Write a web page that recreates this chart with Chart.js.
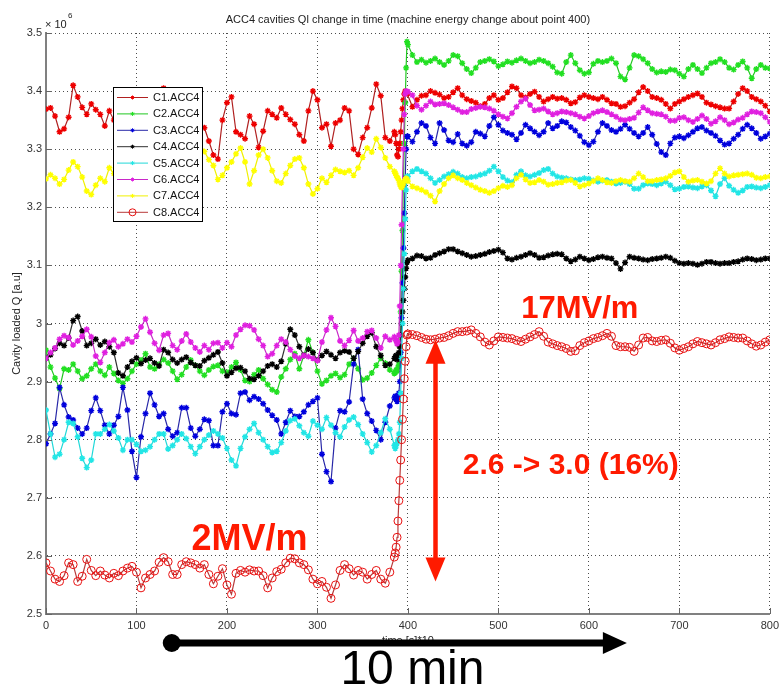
<!DOCTYPE html>
<html><head><meta charset="utf-8">
<script src="https://cdn.jsdelivr.net/npm/chart.js@4/dist/chart.umd.min.js"></script>
<style>html,body{margin:0;padding:0;background:#fff;}#wrap{width:784px;height:687px;}</style>
</head><body><div id="wrap"><canvas id="c" width="784" height="687"></canvas></div>
<script>
// ---- x positions (time samples) ----
const preTimes = []; for (let t = 0; t <= 385; t += 5) preTimes.push(t);
const rampTimes = [386,387,388,389,390,391,392,393,394,395,396,397,398,399];
const postTimes = []; for (let t = 400; t <= 800; t += 5) postTimes.push(t);
const times = [...preTimes, ...rampTimes, ...postTimes];

const seriesLabels = ['C1.ACC4','C2.ACC4','C3.ACC4','C4.ACC4','C5.ACC4','C6.ACC4','C7.ACC4','C8.ACC4'];
const xTickValues = [0,100,200,300,400,500,600,700,800];

// ---- series values (x 10^6) ----
const C1 = [
3.369,3.371,3.357,3.33,3.335,3.355,3.41,3.39,3.372,3.36,
3.378,3.368,3.36,3.34,3.366,3.35,3.362,3.345,3.37,3.357,
3.364,3.348,3.372,3.36,3.385,3.392,3.405,3.396,3.372,3.356,
3.366,3.349,3.36,3.35,3.343,3.337,3.314,3.29,3.283,3.35,
3.38,3.39,3.33,3.325,3.318,3.357,3.343,3.303,3.331,3.366,
3.36,3.354,3.371,3.36,3.351,3.343,3.325,3.314,3.366,3.4,
3.385,3.337,3.343,3.305,3.345,3.35,3.371,3.366,3.3,3.291,
3.32,3.337,3.371,3.412,3.392,3.32,3.314,3.33,
3.325,3.31,3.29,3.287,3.3,3.31,3.33,3.35,3.37,3.385,3.395,3.4,3.398,3.396,
3.396,3.373,3.385,3.392,3.393,3.4,3.397,3.394,3.388,3.39,
3.398,3.405,3.393,3.386,3.383,3.38,3.374,3.378,3.388,3.393,
3.385,3.388,3.398,3.408,3.405,3.393,3.389,3.395,3.399,3.39,
3.382,3.386,3.39,3.387,3.388,3.385,3.379,3.381,3.389,3.393,
3.39,3.388,3.386,3.39,3.385,3.379,3.378,3.373,3.374,3.38,
3.386,3.398,3.407,3.4,3.39,3.388,3.385,3.378,3.37,3.378,
3.382,3.386,3.39,3.393,3.396,3.39,3.38,3.377,3.374,3.372,
3.37,3.37,3.382,3.395,3.405,3.4,3.39,3.386,3.382,3.375,
3.365];
const C2 = [
2.954,2.925,2.906,2.888,2.922,2.92,2.93,2.918,2.905,2.91,
2.922,2.93,2.918,2.911,2.925,2.914,2.902,2.897,2.905,2.918,
2.93,2.937,2.948,2.925,2.922,2.93,2.938,2.932,2.918,2.904,
2.912,2.925,2.937,2.928,2.918,2.911,2.92,2.926,2.928,2.918,
2.916,2.925,2.933,2.92,2.902,2.9,2.912,2.92,2.905,2.895,
2.886,2.882,2.908,2.922,2.938,2.948,2.922,2.945,2.972,2.95,
2.918,2.896,2.902,2.91,2.914,2.907,2.912,2.93,2.94,2.922,
2.903,2.906,2.915,2.928,2.94,2.932,2.92,2.914,
2.916,2.92,2.918,2.925,2.93,2.96,3.02,3.09,3.16,3.24,3.31,3.38,3.44,3.485,
3.48,3.462,3.45,3.454,3.449,3.452,3.456,3.45,3.445,3.452,
3.462,3.46,3.448,3.438,3.431,3.44,3.45,3.452,3.455,3.451,
3.443,3.446,3.451,3.449,3.453,3.456,3.452,3.448,3.45,3.454,
3.452,3.448,3.442,3.432,3.43,3.45,3.462,3.448,3.436,3.43,
3.432,3.447,3.452,3.45,3.452,3.456,3.448,3.425,3.42,3.44,
3.462,3.46,3.455,3.448,3.438,3.432,3.434,3.433,3.437,3.436,
3.43,3.425,3.438,3.445,3.438,3.431,3.44,3.448,3.45,3.455,
3.45,3.44,3.437,3.445,3.451,3.44,3.422,3.438,3.445,3.44,
3.439];
const C3 = [
2.793,2.81,2.828,2.89,2.86,2.839,2.834,2.82,2.81,2.82,
2.85,2.872,2.85,2.825,2.81,2.825,2.84,2.89,2.851,2.78,
2.735,2.805,2.845,2.88,2.86,2.84,2.845,2.818,2.806,2.812,
2.855,2.855,2.82,2.806,2.818,2.835,2.833,2.79,2.79,2.848,
2.862,2.845,2.843,2.88,2.882,2.868,2.874,2.87,2.862,2.851,
2.842,2.834,2.81,2.83,2.85,2.84,2.84,2.848,2.86,2.866,
2.872,2.775,2.745,2.728,2.82,2.85,2.848,2.865,2.93,2.955,
2.87,2.845,2.832,2.816,2.8,2.83,2.858,2.872,
2.875,2.87,2.866,2.872,2.88,2.9,2.95,3.01,3.07,3.13,3.19,3.25,3.3,3.322,
3.322,3.313,3.33,3.345,3.34,3.32,3.31,3.345,3.333,3.315,
3.312,3.326,3.31,3.306,3.312,3.33,3.327,3.322,3.34,3.355,
3.342,3.332,3.328,3.325,3.317,3.328,3.342,3.336,3.33,3.324,
3.33,3.345,3.336,3.34,3.348,3.346,3.338,3.332,3.323,3.312,
3.307,3.313,3.33,3.345,3.34,3.333,3.33,3.335,3.342,3.335,
3.328,3.322,3.328,3.338,3.325,3.309,3.295,3.29,3.31,3.32,
3.322,3.319,3.324,3.33,3.336,3.338,3.332,3.328,3.323,3.315,
3.308,3.31,3.318,3.325,3.335,3.342,3.336,3.328,3.318,3.322,
3.327];
const C4 = [
2.94,2.946,2.957,2.966,2.962,2.975,3.005,3.012,2.987,2.962,
2.966,2.973,2.963,2.969,2.96,2.95,2.915,2.91,2.925,2.935,
2.941,2.931,2.937,2.94,2.932,2.927,2.955,2.95,2.938,2.932,
2.938,2.942,2.933,2.928,2.927,2.936,2.941,2.946,2.951,2.932,
2.91,2.916,2.923,2.924,2.918,2.905,2.904,2.91,2.918,2.927,
2.93,2.925,2.935,2.965,2.99,2.98,2.96,2.945,2.956,2.95,
2.937,2.945,2.952,2.946,2.94,2.95,2.953,2.951,2.94,2.952,
2.966,2.978,2.984,2.96,2.945,2.928,2.93,2.94,
2.943,2.945,2.938,2.94,2.95,2.96,2.98,3.0,3.02,3.04,3.06,3.08,3.095,3.105,
3.109,3.112,3.117,3.116,3.112,3.113,3.118,3.121,3.124,3.128,
3.128,3.124,3.121,3.118,3.115,3.116,3.118,3.12,3.123,3.125,
3.127,3.122,3.112,3.11,3.113,3.115,3.118,3.121,3.118,3.113,
3.114,3.117,3.119,3.12,3.119,3.112,3.107,3.11,3.115,3.112,
3.109,3.111,3.114,3.115,3.113,3.112,3.104,3.094,3.105,3.115,
3.113,3.112,3.11,3.109,3.111,3.112,3.113,3.115,3.113,3.108,
3.104,3.103,3.104,3.103,3.101,3.103,3.106,3.106,3.104,3.103,
3.104,3.104,3.106,3.107,3.11,3.112,3.111,3.109,3.11,3.112,
3.112];
const C5 = [
2.851,2.81,2.77,2.775,2.8,2.83,2.828,2.805,2.768,2.752,
2.765,2.81,2.81,2.818,2.826,2.815,2.803,2.782,2.8,2.8,
2.792,2.78,2.782,2.788,2.8,2.81,2.81,2.784,2.79,2.8,
2.81,2.802,2.788,2.776,2.788,2.8,2.808,2.815,2.81,2.803,
2.785,2.765,2.755,2.785,2.805,2.818,2.828,2.812,2.8,2.788,
2.778,2.78,2.795,2.815,2.833,2.836,2.824,2.812,2.806,2.832,
2.825,2.818,2.838,2.825,2.812,2.805,2.822,2.834,2.839,2.826,
2.81,2.795,2.779,2.79,2.812,2.836,2.818,2.79,
2.785,2.79,2.795,2.8,2.81,2.83,2.88,2.94,3.0,3.06,3.12,3.18,3.23,3.253,
3.253,3.262,3.266,3.262,3.258,3.25,3.242,3.247,3.253,3.257,
3.261,3.258,3.252,3.25,3.252,3.253,3.256,3.258,3.263,3.27,
3.262,3.252,3.246,3.243,3.256,3.262,3.255,3.253,3.256,3.259,
3.264,3.266,3.258,3.253,3.251,3.25,3.248,3.247,3.248,3.25,
3.249,3.246,3.244,3.246,3.247,3.244,3.241,3.242,3.244,3.24,
3.232,3.232,3.238,3.241,3.24,3.238,3.241,3.244,3.238,3.231,
3.232,3.235,3.236,3.234,3.233,3.236,3.238,3.229,3.219,3.24,
3.25,3.237,3.23,3.225,3.229,3.235,3.236,3.234,3.233,3.235,
3.238];
const C6 = [
2.94,2.95,2.958,2.973,2.979,2.976,2.963,2.97,2.978,2.99,
2.977,2.944,2.933,2.95,2.967,2.972,2.96,2.965,2.973,2.968,
2.978,2.994,3.008,2.985,2.966,2.954,2.98,2.983,2.962,2.955,
2.97,2.982,2.968,2.958,2.951,2.962,2.955,2.966,2.967,2.958,
2.967,2.96,2.98,2.99,2.997,2.996,2.989,2.973,2.962,2.943,
2.948,2.962,2.973,2.968,2.955,2.944,2.94,2.945,2.943,2.94,
2.936,2.968,2.989,3.01,2.995,2.97,2.962,2.971,2.988,2.97,
2.975,2.986,2.988,2.975,2.958,2.978,2.972,2.977,
2.974,2.97,2.965,2.968,2.98,3.03,3.1,3.17,3.24,3.3,3.36,3.395,3.4,3.399,
3.399,3.393,3.375,3.368,3.375,3.382,3.377,3.378,3.379,3.376,
3.372,3.368,3.364,3.364,3.369,3.371,3.373,3.372,3.37,3.366,
3.36,3.356,3.353,3.362,3.373,3.382,3.387,3.376,3.367,3.368,
3.37,3.365,3.36,3.362,3.365,3.364,3.362,3.36,3.356,3.353,
3.357,3.362,3.365,3.367,3.364,3.36,3.356,3.351,3.35,3.352,
3.354,3.363,3.372,3.367,3.362,3.361,3.36,3.356,3.349,3.349,
3.354,3.355,3.35,3.347,3.352,3.358,3.352,3.344,3.348,3.355,
3.35,3.343,3.346,3.351,3.354,3.36,3.365,3.364,3.362,3.355,
3.347];
const C7 = [
3.249,3.256,3.25,3.24,3.248,3.264,3.278,3.27,3.252,3.228,
3.222,3.238,3.25,3.244,3.268,3.258,3.245,3.252,3.27,3.262,
3.248,3.24,3.255,3.27,3.28,3.268,3.255,3.262,3.275,3.29,
3.3,3.31,3.305,3.3,3.31,3.296,3.282,3.272,3.248,3.255,
3.268,3.278,3.292,3.302,3.278,3.24,3.263,3.29,3.3,3.285,
3.263,3.245,3.242,3.258,3.272,3.283,3.285,3.268,3.24,3.223,
3.232,3.25,3.243,3.255,3.265,3.262,3.26,3.263,3.255,3.268,
3.286,3.302,3.295,3.318,3.303,3.285,3.27,3.262,
3.259,3.255,3.252,3.25,3.246,3.24,3.236,3.234,3.238,3.242,3.245,3.248,3.25,3.248,
3.245,3.236,3.233,3.23,3.226,3.22,3.21,3.228,3.24,3.25,
3.255,3.25,3.247,3.242,3.238,3.234,3.23,3.228,3.225,3.228,
3.233,3.237,3.235,3.238,3.25,3.256,3.248,3.242,3.243,3.247,
3.244,3.239,3.24,3.242,3.243,3.246,3.247,3.242,3.236,3.238,
3.241,3.245,3.25,3.247,3.243,3.242,3.245,3.247,3.245,3.244,
3.25,3.258,3.252,3.245,3.245,3.247,3.248,3.25,3.254,3.26,
3.262,3.252,3.244,3.246,3.247,3.244,3.241,3.245,3.258,3.267,
3.258,3.253,3.255,3.256,3.257,3.258,3.256,3.251,3.25,3.252,
3.253];
const C8 = [
2.588,2.574,2.56,2.556,2.566,2.588,2.585,2.556,2.565,2.594,
2.575,2.566,2.574,2.567,2.562,2.57,2.566,2.574,2.579,2.582,
2.572,2.545,2.562,2.568,2.574,2.589,2.597,2.59,2.568,2.568,
2.585,2.59,2.588,2.585,2.579,2.585,2.568,2.552,2.565,2.578,
2.55,2.534,2.57,2.575,2.572,2.576,2.574,2.574,2.566,2.545,
2.562,2.573,2.577,2.588,2.596,2.595,2.588,2.585,2.576,2.56,
2.552,2.556,2.546,2.527,2.55,2.575,2.585,2.578,2.567,2.575,
2.572,2.56,2.568,2.575,2.56,2.553,2.572,2.598,
2.605,2.615,2.632,2.66,2.695,2.73,2.765,2.8,2.835,2.87,2.905,2.935,2.96,2.98,
2.982,2.981,2.979,2.976,2.973,2.972,2.973,2.975,2.976,2.979,
2.983,2.986,2.986,2.987,2.989,2.983,2.977,2.968,2.963,2.97,
2.977,2.976,2.975,2.974,2.971,2.969,2.973,2.977,2.981,2.986,
2.978,2.968,2.965,2.962,2.96,2.957,2.952,2.953,2.962,2.967,
2.97,2.974,2.976,2.979,2.983,2.978,2.962,2.96,2.96,2.959,
2.952,2.963,2.975,2.976,2.97,2.969,2.971,2.972,2.966,2.958,
2.954,2.957,2.96,2.965,2.969,2.967,2.965,2.963,2.967,2.972,
2.974,2.977,2.976,2.975,2.975,2.97,2.965,2.961,2.963,2.968,
2.972];

const allSeries = [C1,C2,C3,C4,C5,C6,C7,C8];
const lineColors  = ['#b02020','#20c820','#2828a8','#303030','#20d8d8','#c828c8','#f0f000','#b83a3a'];
const pointColors = ['#ee0000','#22e022','#0000dd','#000000','#22e6e6','#e020e0','#ffff00','#e81010'];

const FONT = '"Liberation Sans", Arial, Helvetica, sans-serif';

function arrowHead(ctx, tx, ty, dx, dy, len, half) {
  const bx = tx - dx * len, by = ty - dy * len, px = -dy, py = dx;
  ctx.beginPath();
  ctx.moveTo(tx, ty);
  ctx.lineTo(bx + px * half, by + py * half);
  ctx.lineTo(bx - px * half, by - py * half);
  ctx.closePath();
  ctx.fill();
}

const overlay = {
  id: 'overlay',
  afterDraw(chart) {
    const ctx = chart.ctx, a = chart.chartArea, xs = chart.scales.x, ys = chart.scales.y;
    ctx.save();
    // inward tick marks
    ctx.strokeStyle = '#666'; ctx.lineWidth = 1;
    ys.ticks.forEach(t => {
      const py = Math.round(ys.getPixelForValue(t.value)) + 0.5;
      ctx.beginPath(); ctx.moveTo(a.left, py); ctx.lineTo(a.left + 6, py); ctx.stroke();
    });
    xs.ticks.forEach(t => {
      const px = Math.round(xs.getPixelForValue(t.value)) + 0.5;
      ctx.beginPath(); ctx.moveTo(px, a.bottom); ctx.lineTo(px, a.bottom - 6); ctx.stroke();
    });
    // title
    ctx.fillStyle = '#222';
    ctx.font = '11px ' + FONT;
    ctx.textAlign = 'center'; ctx.textBaseline = 'middle';
    ctx.fillText('ACC4 cavities Ql change in time (machine energy change about point 400)', (a.left + a.right) / 2, a.top - 13);
    // exponent
    ctx.textAlign = 'left';
    ctx.fillText('\u00d7 10', a.left - 1, a.top - 8);
    ctx.font = '8px ' + FONT;
    ctx.fillText('6', a.left + 22, a.top - 17);
    // y-axis title
    ctx.font = '11px ' + FONT;
    ctx.save();
    ctx.translate(17, (a.top + a.bottom) / 2);
    ctx.rotate(-Math.PI / 2);
    ctx.textAlign = 'center';
    ctx.fillText('Cavity loaded Q [a.u]', 0, 0);
    ctx.restore();
    // x-axis title
    ctx.textAlign = 'center';
    ctx.fillText('time [s]*10', (a.left + a.right) / 2, a.bottom + 27);

    // legend box
    const lx = a.left + 67, ly = a.top + 54, lw = 89, lh = 134;
    ctx.fillStyle = '#fff'; ctx.fillRect(lx, ly, lw, lh);
    ctx.strokeStyle = '#000'; ctx.lineWidth = 1; ctx.strokeRect(lx + 0.5, ly + 0.5, lw, lh);
    chart.data.datasets.forEach((ds, i) => {
      const cy = ly + 10.5 + i * 16.4;
      ctx.strokeStyle = ds.borderColor; ctx.lineWidth = 1;
      ctx.beginPath(); ctx.moveTo(lx + 4, cy); ctx.lineTo(lx + 35, cy); ctx.stroke();
      ctx.strokeStyle = ds.pointBorderColor; ctx.fillStyle = ds.pointBackgroundColor;
      Chart.helpers.drawPoint(ctx, {pointStyle: ds.pointStyle, radius: ds.pointStyle === 'circle' ? 3.5 : 2, borderWidth: 1, rotation: 0}, lx + 19.5, cy);
      ctx.fillStyle = '#111'; ctx.font = '11px ' + FONT; ctx.textAlign = 'left'; ctx.textBaseline = 'middle';
      ctx.fillText(ds.label, lx + 40, cy + 0.5);
    });

    // red annotations
    const red = '#ff1a00';
    ctx.fillStyle = red; ctx.strokeStyle = red;
    const ax = xs.getPixelForValue(430.5), ay1 = ys.getPixelForValue(2.972), ay2 = ys.getPixelForValue(2.556);
    ctx.lineWidth = 4.5;
    ctx.beginPath(); ctx.moveTo(ax, ay1 + 18); ctx.lineTo(ax, ay2 - 18); ctx.stroke();
    arrowHead(ctx, ax, ay1, 0, -1, 24, 10);
    arrowHead(ctx, ax, ay2, 0, 1, 24, 10);
    ctx.textAlign = 'center'; ctx.textBaseline = 'middle';
    ctx.font = 'bold 31px ' + FONT;
    ctx.fillText('17MV/m', xs.getPixelForValue(590), ys.getPixelForValue(3.025));
    ctx.font = 'bold 30px ' + FONT;
    ctx.fillText('2.6 -> 3.0 (16%)', xs.getPixelForValue(580), ys.getPixelForValue(2.755));
    ctx.font = 'bold 36px ' + FONT;
    ctx.fillText('2MV/m', xs.getPixelForValue(225), ys.getPixelForValue(2.627));

    // black time arrow
    ctx.fillStyle = '#000'; ctx.strokeStyle = '#000';
    const by = a.bottom + 29, bx1 = xs.getPixelForValue(139), bx2 = xs.getPixelForValue(642);
    ctx.lineWidth = 7;
    ctx.beginPath(); ctx.moveTo(bx1, by); ctx.lineTo(bx2 - 20, by); ctx.stroke();
    ctx.beginPath(); ctx.arc(bx1, by, 9, 0, Math.PI * 2); ctx.fill();
    arrowHead(ctx, bx2, by, 1, 0, 24, 11);
    ctx.font = '48px ' + FONT; ctx.textBaseline = 'alphabetic';
    ctx.fillText('10 min', xs.getPixelForValue(405), a.bottom + 70);
    ctx.restore();
  }
};

const datasets = allSeries.map((vals, i) => {
  const isC8 = i === 7;
  return {
    label: seriesLabels[i],
    data: times.map((t, k) => ({x: t, y: vals[k]})),
    borderColor: lineColors[i],
    borderWidth: 1.2,
    pointStyle: isC8 ? 'circle' : 'star',
    pointRadius: isC8 ? 4 : 3,
    pointBorderWidth: isC8 ? 1 : 1.4,
    pointBorderColor: pointColors[i],
    pointBackgroundColor: isC8 ? 'rgba(0,0,0,0)' : pointColors[i],
    tension: 0,
    fill: false,
    order: 8 - i
  };
});

new Chart(document.getElementById('c'), {
  type: 'line',
  data: { datasets },
  options: {
    responsive: false,
    animation: false,
    devicePixelRatio: 1,
    layout: { padding: { top: 33, right: 6, left: 0, bottom: 0 } },
    plugins: { legend: { display: false }, tooltip: { enabled: false }, title: { display: false } },
    scales: {
      x: {
        type: 'linear', min: 0, max: 800,
        afterFit(s) { s.height = 73; },
        afterBuildTicks(s) { s.ticks = xTickValues.map(v => ({value: v})); },
        ticks: { stepSize: 100, padding: 5, color: '#333', font: { family: FONT, size: 11 }, maxRotation: 0 },
        grid: { color: 'rgba(0,0,0,0.7)', lineWidth: 1, drawTicks: false },
        border: { color: '#808080', width: 2, dash: [1, 3] }
      },
      y: {
        type: 'linear', min: 2.5, max: 3.5,
        afterFit(s) { s.width = 46; },
        ticks: { stepSize: 0.1, padding: 4, color: '#333', font: { family: FONT, size: 11 },
          callback: v => String(Math.round(v * 10) / 10) },
        grid: { color: 'rgba(0,0,0,0.7)', lineWidth: 1, drawTicks: false },
        border: { color: '#808080', width: 2, dash: [1, 3] }
      }
    }
  },
  plugins: [overlay]
});
</script></body></html>
